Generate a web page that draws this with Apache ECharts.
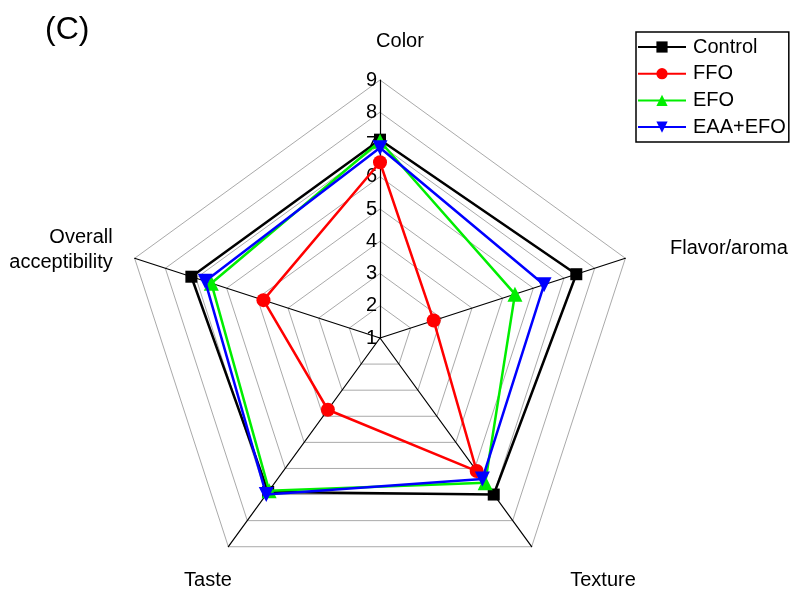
<!DOCTYPE html>
<html>
<head>
<meta charset="utf-8">
<script src="https://cdn.jsdelivr.net/npm/echarts@6/dist/echarts.min.js"></script>
<style>
  html, body { margin: 0; padding: 0; background: #fff; }
  #chart { width: 792px; height: 590px; }
</style>
</head>
<body>
<div id="chart"></div>
<script>
// Sensory attributes, listed in the order the radar axes are laid out
const categories = ['Color', 'Overall\nacceptibility', 'Taste', 'Texture', 'Flavor/aroma'];
const scaleTicks = [1, 2, 3, 4, 5, 6, 7, 8, 9];

// Mean sensory scores per treatment (same order as categories)
const control = [7.15, 7.15, 6.9, 7.0, 7.4];
const ffo     = [6.45, 4.8, 3.75, 6.1, 2.75];
const efo     = [7.1, 6.5, 6.85, 6.55, 5.4];
const eaaEfo  = [6.9, 6.7, 7.0, 6.4, 6.35];

const seriesNames = ['Control', 'FFO', 'EFO', 'EAA+EFO'];

const FONT = 'Liberation Sans, Arial, sans-serif';
const center = [380, 338];
const radius = 258;

// Attribute label placement around the pentagon (one entry per text line)
const labelPos = {
  'Color': [{ x: 400, y: 41, align: 'center' }],
  'Overall\nacceptibility': [{ x: 81, y: 237, align: 'center' }, { x: 61, y: 262, align: 'center', spacing: 1 }],
  'Taste': [{ x: 208, y: 580, align: 'center' }],
  'Texture': [{ x: 603, y: 580, align: 'center' }],
  'Flavor/aroma': [{ x: 670, y: 248, align: 'left' }]
};

const chart = echarts.init(document.getElementById('chart'));

const styles = [
  { color: '#000000', symbol: 'rect', size: 12, rotate: 0 },
  { color: '#ff0000', symbol: 'circle', size: 14, rotate: 0 },
  { color: '#00ee00', symbol: 'triangle', size: 15, rotate: 0 },
  { color: '#0000ff', symbol: 'triangle', size: 15, rotate: 180 }
];
const values = [control, ffo, efo, eaaEfo];

const radarSeries = seriesNames.map((name, i) => ({
  type: 'radar',
  name: name,
  z: 2 + i,
  symbol: styles[i].symbol,
  symbolSize: styles[i].size,
  symbolRotate: styles[i].rotate,
  lineStyle: { color: styles[i].color, width: 2.5 },
  itemStyle: { color: styles[i].color },
  data: [{ value: values[i], name: name }]
}));

// Empty line series so the legend shows a line-with-marker key for each treatment
const keySeries = seriesNames.map((name, i) => ({
  type: 'line',
  name: name,
  data: [],
  symbol: styles[i].symbol,
  symbolSize: styles[i].size,
  symbolRotate: styles[i].rotate,
  lineStyle: { color: styles[i].color, width: 2.5 },
  itemStyle: { color: styles[i].color }
}));

chart.setOption({
  animation: false,
  backgroundColor: '#fff',
  textStyle: { fontFamily: FONT },
  legend: {
    data: seriesNames,
    orient: 'vertical',
    left: 636,
    top: 32,
    itemWidth: 48,
    itemHeight: 14,
    itemGap: 6.7,
    symbolRotate: 'inherit',
    padding: [5, 3, 5, 1],
    borderColor: '#000',
    borderWidth: 1.5,
    borderRadius: 0,
    textStyle: { fontSize: 20, color: '#000', fontFamily: FONT, padding: [0, 0, 0, 2] }
  },
  radar: {
    center: center,
    radius: radius,
    shape: 'polygon',
    splitNumber: 8,
    indicator: categories.map(c => ({ name: c, min: 1, max: 9 })),
    axisName: { show: false },
    axisLine: { lineStyle: { color: '#000', width: 1.2 } },
    splitLine: { lineStyle: { color: '#aaaaaa', width: 1 } },
    splitArea: { show: false },
    axisTick: { show: false },
    axisLabel: { show: false }
  },
  // Value scale printed along the Color axis
  grid: { left: center[0], top: center[1] - radius, width: 1, height: radius, containLabel: false },
  xAxis: { type: 'value', show: false },
  yAxis: {
    type: 'value',
    min: scaleTicks[0],
    max: scaleTicks[scaleTicks.length - 1],
    interval: 1,
    axisLine: { show: false },
    axisTick: { show: false },
    splitLine: { show: false },
    axisLabel: { fontSize: 20, color: '#000', margin: 3, fontFamily: FONT }
  },
  graphic: [
    {
      type: 'text', left: 45, top: 14,
      style: { text: '(C)', fontSize: 32, fill: '#000', fontFamily: FONT }
    }
  ].concat(...categories.map(c => c.split('\n').map((line, k) => ({
    type: 'text',
    x: labelPos[c][k].x,
    y: labelPos[c][k].y,
    style: {
      text: line,
      fontSize: 20,
      fill: '#000',
      fontFamily: FONT,
      align: labelPos[c][k].align,
      verticalAlign: 'middle'
    }
  })))),
  // key series first so the legend takes its icons from them
  series: keySeries.concat(radarSeries)
});
</script>
</body>
</html>
